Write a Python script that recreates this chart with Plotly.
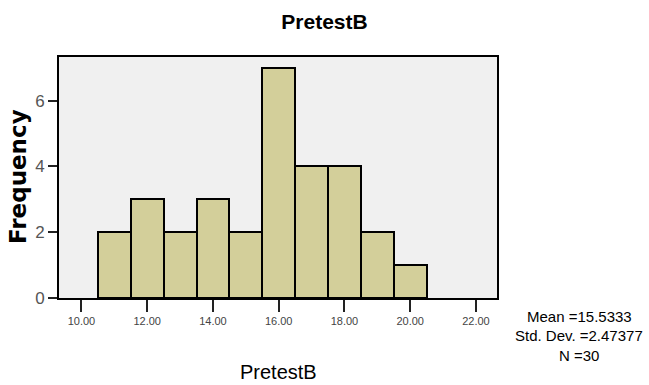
import plotly.graph_objects as go

bin_centers = [11, 12, 13, 14, 15, 16, 17, 18, 19, 20]
frequencies = [2, 3, 2, 3, 2, 7, 4, 4, 2, 1]
x_tick_vals = [10, 12, 14, 16, 18, 20, 22]
x_tick_text = ["10.00", "12.00", "14.00", "16.00", "18.00", "20.00", "22.00"]
y_tick_vals = [0, 2, 4, 6]
stats_lines = ["Mean =15.5333", "Std. Dev. =2.47377", "N =30"]

W, H = 649, 385
L, R, T, B = 59, 497, 57, 298
pw, ph = R - L, B - T

def px_x(x):
    return (x - L) / pw

def px_y(y):
    return (B - y) / ph

fig = go.Figure()
fig.add_trace(go.Bar(
    x=bin_centers, y=frequencies, width=1,
    marker=dict(color="#D3CF9A", line=dict(color="black", width=2)),
    hoverinfo="x+y",
))

sans = "Liberation Sans, Arial, sans-serif"

fig.update_layout(
    width=W, height=H,
    margin=dict(l=L, r=W - R, t=T, b=H - B, pad=0),
    paper_bgcolor="white",
    plot_bgcolor="#F0F0F0",
    showlegend=False,
    bargap=0,
    title=dict(text="<b>PretestB</b>", x=0.5, xref="container", xanchor="center",
               y=1 - 22 / H, yref="container", yanchor="middle",
               font=dict(family=sans, size=21, color="black")),
    xaxis=dict(range=[9.317, 22.64], tickvals=x_tick_vals, ticktext=x_tick_text,
               showgrid=False, zeroline=False, showline=True, linecolor="black",
               linewidth=2, mirror=True, ticks="outside", ticklen=12, tickwidth=2,
               tickcolor="#222", tickfont=dict(family=sans, size=11, color="#444")),
    yaxis=dict(range=[0, 7.33], tickvals=y_tick_vals,
               showgrid=False, zeroline=False, showline=True, linecolor="black",
               linewidth=2, mirror=True, ticks="outside", ticklen=9, tickwidth=2,
               tickcolor="#222", tickfont=dict(family=sans, size=17, color="#555")),
)

annotations = [
    dict(text="PretestB", x=0.5, y=px_y(372), xref="paper", yref="paper",
         xanchor="center", yanchor="middle", showarrow=False,
         font=dict(family=sans, size=20, color="black")),
    dict(text="<b>Frequency</b>", x=px_x(18), y=px_y(177), xref="paper", yref="paper",
         xanchor="center", yanchor="middle", showarrow=False, textangle=-90,
         font=dict(family="DejaVu Sans", size=23, color="black")),
]
stats_y = [316, 335.5, 355]
for line, yy in zip(stats_lines, stats_y):
    annotations.append(dict(text=line, x=px_x(579), y=px_y(yy),
                            xref="paper", yref="paper", xanchor="center",
                            yanchor="middle", showarrow=False,
                            font=dict(family=sans, size=15, color="black")))
fig.update_layout(annotations=annotations)

fig.write_html("out.html")
